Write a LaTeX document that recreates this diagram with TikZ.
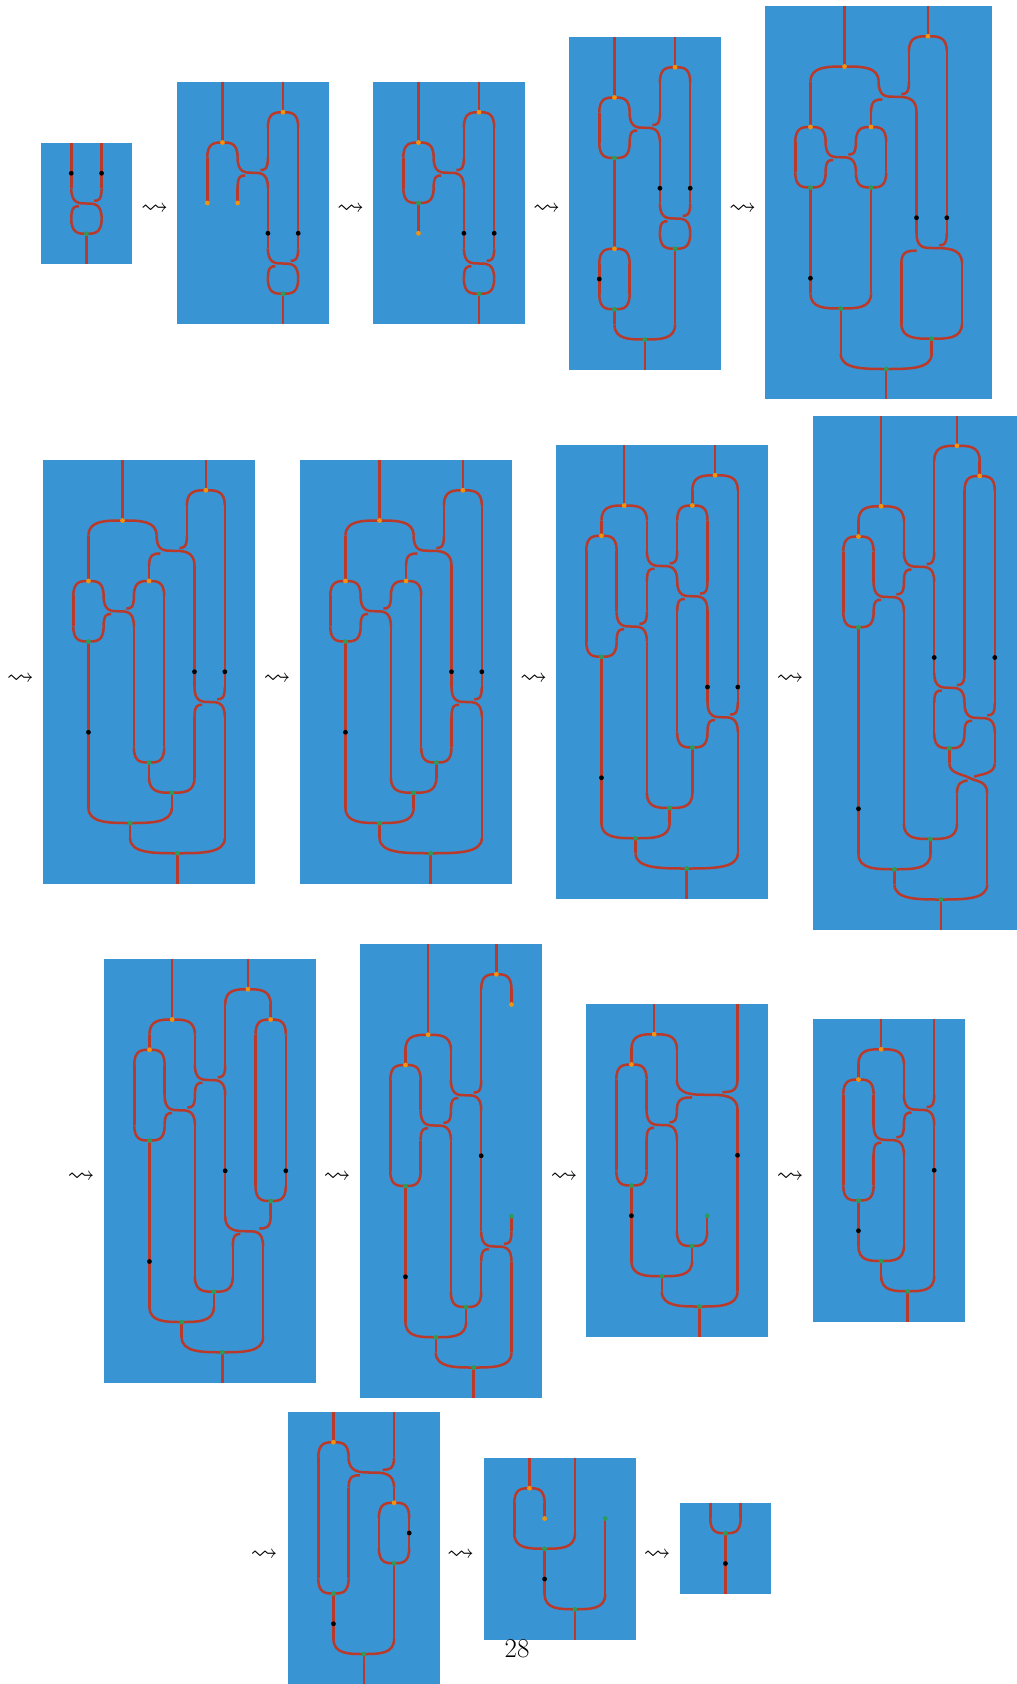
\documentclass[tikz,border=0pt]{standalone}
\usepackage{amsmath, amssymb}
\usepackage{tikz}
\definecolor{sheetblue}{HTML}{3994D3}
\definecolor{wirered}{HTML}{B93A2B}
\definecolor{capgold}{HTML}{F0930F}
\definecolor{cupgreen}{HTML}{2A9D58}
\pgfdeclarelayer{dots}
\pgfsetlayers{main,dots}
\tikzset{
  panel/.style={x=30.3pt, y=-30.25pt},
  strand/.style={wirered, line width=2.5pt},
  sheet/.style={fill=sheetblue},
  leadsto/.style={inner sep=0pt, font=\fontsize{27}{27}\selectfont}
}
\newcommand{\wires}[1]{\foreach \wx/\wa/\wb in {#1} {\draw[strand] (\wx,\wa) -- (\wx,\wb);}}
\newcommand{\blackdots}[1]{\begin{pgfonlayer}{dots}\foreach \dx/\dy in {#1} {\fill[black] (\dx,\dy) circle (2.4pt);}\end{pgfonlayer}}
\newcommand{\golddots}[1]{\begin{pgfonlayer}{dots}\foreach \dx/\dy in {#1} {\fill[capgold] (\dx,\dy) circle (2.4pt);}\end{pgfonlayer}}
\newcommand{\greendots}[1]{\begin{pgfonlayer}{dots}\foreach \dx/\dy in {#1} {\fill[cupgreen] (\dx,\dy) circle (2.4pt);}\end{pgfonlayer}}
% #1 vertex x, #2 vertex y, #3 left x, #4 right x
\newcommand{\capv}[4]{
  \draw[strand] ({#3},{#2+.5}) .. controls ({#3},{#2}) and ({(#3+#1)/2},{#2}) .. ({#1},{#2})
    .. controls ({(#4+#1)/2},{#2}) and ({#4},{#2}) .. ({#4},{#2+.5});
  \golddots{#1/#2}
}
\newcommand{\cupv}[4]{
  \draw[strand] ({#3},{#2-.5}) .. controls ({#3},{#2}) and ({(#3+#1)/2},{#2}) .. ({#1},{#2})
    .. controls ({(#4+#1)/2},{#2}) and ({#4},{#2}) .. ({#4},{#2-.5});
  \greendots{#1/#2}
}
% top left, top right, bottom left, bottom right, height
\newcommand{\braid}[5]{
  \pgfmathsetmacro{\bm}{(#1+#2+#3+#4)/4}
  \draw[strand] ({#1},{#5-.5}) .. controls ({#1},{#5}) and ({(#1+\bm)/2},{#5}) .. ({\bm},{#5})
    .. controls ({(#4+\bm)/2},{#5}) and ({#4},{#5}) .. ({#4},{#5+.5});
  \draw[strand] ({#2},{#5-.5}) .. controls ({#2},{#5-.09}) and ({#2-(#2-\bm)/4},{#5-.09}) .. ({(#2+\bm)/2},{#5-.09});
  \draw[strand] ({#3},{#5+.5}) .. controls ({#3},{#5+.09}) and ({#3+(\bm-#3)/4},{#5+.09}) .. ({(#3+\bm)/2},{#5+.09});
}
\begin{document}
\begin{tikzpicture}[x=1pt, y=-1pt]
  \useasboundingbox (0,0) rectangle (1017,1684);

  \begin{scope}[shift={(41,143)}, panel]
    \fill[sheet] (0,0) rectangle (3,4);
    \wires{1/0/1.5, 2/0/1.5, 1.5/3/4}
    \braid{1}{2}{1}{2}{2}
    \cupv{1.5}{3}{1}{2}
    \blackdots{1/1, 2/1}
  \end{scope}

  \begin{scope}[shift={(177,82)}, panel]
    \fill[sheet] (0,0) rectangle (5,8);
    \wires{1.5/0/2, 3.5/0/1, 3/1.5/2.5, 1/2.5/4, 2/3.5/4, 3/3.5/5.5, 4/1.5/5.5, 3.5/7/8}
    \capv{1.5}{2}{1}{2}
    \capv{3.5}{1}{3}{4}
    \braid{2}{3}{2}{3}{3}
    \braid{3}{4}{3}{4}{6}
    \cupv{3.5}{7}{3}{4}
    \golddots{1/4, 2/4}
    \blackdots{3/5, 4/5}
  \end{scope}

  \begin{scope}[shift={(373,82)}, panel]
    \fill[sheet] (0,0) rectangle (5,8);
    \wires{1.5/0/2, 3.5/0/1, 3/1.5/2.5, 1/2.5/3.5, 1.5/4/5, 3/3.5/5.5, 4/1.5/5.5, 3.5/7/8}
    \capv{1.5}{2}{1}{2}
    \capv{3.5}{1}{3}{4}
    \braid{2}{3}{2}{3}{3}
    \cupv{1.5}{4}{1}{2}
    \braid{3}{4}{3}{4}{6}
    \cupv{3.5}{7}{3}{4}
    \golddots{1.5/5}
    \blackdots{3/5, 4/5}
  \end{scope}

  \begin{scope}[shift={(569,37)}, panel]
    \fill[sheet] (0,0) rectangle (5,11);
    \wires{1.5/0/2, 3.5/0/1, 3/1.5/2.5, 1/2.5/3.5, 1.5/4/7, 3/3.5/5.5, 4/1.5/5.5, 1/7.5/8.5, 2/7.5/8.5,
      1.5/9/9.5, 3.5/7/9.5, 2.5/10/11}
    \capv{1.5}{2}{1}{2}
    \capv{3.5}{1}{3}{4}
    \braid{2}{3}{2}{3}{3}
    \cupv{1.5}{4}{1}{2}
    \braid{3}{4}{3}{4}{6}
    \cupv{3.5}{7}{3}{4}
    \capv{1.5}{7}{1}{2}
    \cupv{1.5}{9}{1}{2}
    \cupv{2.5}{10}{1.5}{3.5}
    \blackdots{3/5, 4/5, 1/8}
  \end{scope}

  \begin{scope}[shift={(765,6)}, panel]
    \fill[sheet] (0,0) rectangle (7.5,13);
    \wires{2.625/0/2, 5.375/0/1, 4.75/1.5/2.5, 1.5/2.5/4, 3.5/3.5/4, 1/4.5/5.5, 4/4.5/5.5, 1.5/6/9.5, 3.5/6/9.5,
      5/3.5/7.5, 6/1.5/7.5, 4.5/8.5/10.5, 6.5/8.5/10.5, 2.5/10/11.5, 5.5/11/11.5, 4/12/13}
    \capv{2.625}{2}{1.5}{3.75}
    \capv{5.375}{1}{4.75}{6}
    \braid{3.75}{4.75}{3.5}{5}{3}
    \capv{1.5}{4}{1}{2}
    \capv{3.5}{4}{3}{4}
    \braid{2}{3}{2}{3}{5}
    \cupv{1.5}{6}{1}{2}
    \cupv{3.5}{6}{3}{4}
    \braid{5}{6}{4.5}{6.5}{8}
    \cupv{2.5}{10}{1.5}{3.5}
    \cupv{5.5}{11}{4.5}{6.5}
    \cupv{4}{12}{2.5}{5.5}
    \blackdots{1.5/9, 5/7, 6/7}
  \end{scope}

  \begin{scope}[shift={(43,460)}, panel]
    \fill[sheet] (0,0) rectangle (7,14);
    \wires{2.625/0/2, 5.375/0/1, 4.75/1.5/2.5, 1.5/2.5/4, 3.5/3.5/4, 1/4.5/5.5, 1.5/6/11.5, 3/5.5/9.5, 4/4.5/9.5,
      3.5/10/10.5, 5/3.5/7.5, 6/1.5/7.5, 5/8.5/10.5, 6/8.5/12.5, 4.25/11/11.5, 2.875/12/12.5, 4.4375/13/14}
    \capv{2.625}{2}{1.5}{3.75}
    \capv{5.375}{1}{4.75}{6}
    \braid{3.75}{4.75}{3.5}{5}{3}
    \capv{1.5}{4}{1}{2}
    \capv{3.5}{4}{3}{4}
    \braid{2}{3}{2}{3}{5}
    \cupv{1.5}{6}{1}{2}
    \braid{5}{6}{5}{6}{8}
    \cupv{3.5}{10}{3}{4}
    \cupv{4.25}{11}{3.5}{5}
    \cupv{2.875}{12}{1.5}{4.25}
    \cupv{4.4375}{13}{2.875}{6}
    \blackdots{1.5/9, 5/7, 6/7}
  \end{scope}

  \begin{scope}[shift={(300,460)}, panel]
    \fill[sheet] (0,0) rectangle (7,14);
    \wires{2.625/0/2, 5.375/0/1, 4.75/1.5/2.5, 1.5/2.5/4, 3.5/3.5/4, 1/4.5/5.5, 1.5/6/11.5, 3/5.5/10.5, 4/4.5/9.5,
      4.5/10/10.5, 5/3.5/7.5, 6/1.5/7.5, 5/8.5/9.5, 6/8.5/12.5, 3.75/11/11.5, 2.625/12/12.5, 4.3125/13/14}
    \capv{2.625}{2}{1.5}{3.75}
    \capv{5.375}{1}{4.75}{6}
    \braid{3.75}{4.75}{3.5}{5}{3}
    \capv{1.5}{4}{1}{2}
    \capv{3.5}{4}{3}{4}
    \braid{2}{3}{2}{3}{5}
    \cupv{1.5}{6}{1}{2}
    \braid{5}{6}{5}{6}{8}
    \cupv{4.5}{10}{4}{5}
    \cupv{3.75}{11}{3}{4.5}
    \cupv{2.625}{12}{1.5}{3.75}
    \cupv{4.3125}{13}{2.625}{6}
    \blackdots{1.5/9, 5/7, 6/7}
  \end{scope}

  \begin{scope}[shift={(556,445)}, panel]
    \fill[sheet] (0,0) rectangle (7,15);
    \wires{2.25/0/2, 5.25/0/1, 4.5/1.5/2, 1.5/2.5/3, 3/2.5/3.5, 4/2.5/3.5, 5/2.5/4.5, 3/4.5/5.5, 2/3.5/5.5, 1/3.5/6.5,
      1.5/7/12.5, 3/6.5/11.5, 5/5.5/8.5, 6/1.5/8.5, 4/5.5/9.5, 4.5/10/11.5, 6/9.5/13.5, 3.75/12/12.5, 2.625/13/13.5, 4.3125/14/15}
    \capv{2.25}{2}{1.5}{3}
    \capv{5.25}{1}{4.5}{6}
    \capv{4.5}{2}{4}{5}
    \capv{1.5}{3}{1}{2}
    \braid{3}{4}{3}{4}{4}
    \braid{4}{5}{4}{5}{5}
    \braid{2}{3}{2}{3}{6}
    \cupv{1.5}{7}{1}{2}
    \braid{5}{6}{5}{6}{9}
    \cupv{4.5}{10}{4}{5}
    \cupv{3.75}{12}{3}{4.5}
    \cupv{2.625}{13}{1.5}{3.75}
    \cupv{4.3125}{14}{2.625}{6}
    \blackdots{1.5/11, 5/8, 6/8}
  \end{scope}

  \begin{scope}[shift={(813,415.5)}, panel]
    \fill[sheet] (0,0) rectangle (6.75,17);
    \wires{2.25/0/3, 1.5/3.5/4, 4.75/0/1, 5.5/1.5/2, 4/1.5/4.5, 3/3.5/4.5, 2/4.5/5.5, 1/4.5/6.5, 1.5/7/14.5, 3/6.5/13.5,
      4/5.5/8.5, 5/2.5/8.5, 6/2.5/9.5, 4/9.5/10.5, 4.5/11/11.5, 6/10.5/11.5, 4.75/12.5/13.5, 5.75/12.5/15.5,
      3.875/14/14.5, 2.6875/15/15.5, 4.22/16/17}
    \capv{2.25}{3}{1.5}{3}
    \capv{1.5}{4}{1}{2}
    \capv{4.75}{1}{4}{5.5}
    \capv{5.5}{2}{5}{6}
    \braid{3}{4}{3}{4}{5}
    \braid{2}{3}{2}{3}{6}
    \cupv{1.5}{7}{1}{2}
    \braid{4}{5}{4}{5}{9}
    \braid{5}{6}{5}{6}{10}
    \cupv{4.5}{11}{4}{5}
    \draw[strand] (4.5,11.5) .. controls (4.5,11.85) and (4.95,11.85) .. (5.21,12)
      .. controls (5.35,12.1) and (5.75,12.05) .. (5.75,12.5);
    \draw[strand] (6,11.5) .. controls (6,11.85) and (5.55,11.85) .. (5.32,11.94);
    \draw[strand] (4.75,12.5) .. controls (4.75,12.1) and (4.95,12.1) .. (5.1,12.06);
    \cupv{3.875}{14}{3}{4.75}
    \cupv{2.6875}{15}{1.5}{3.875}
    \cupv{4.22}{16}{2.6875}{5.75}
    \blackdots{1.5/13, 4/8, 6/8}
  \end{scope}

  \begin{scope}[shift={(104,959)}, panel]
    \fill[sheet] (0,0) rectangle (7,14);
    \wires{2.25/0/2, 1.5/2.5/3, 4.75/0/1, 5.5/1.5/2, 5/2.5/7.5, 6/2.5/7.5, 4/1.5/3.5, 3/2.5/3.5, 2/3.5/4.5, 1/3.5/5.5,
      1.5/6/11.5, 3/5.5/10.5, 4/4.5/8.5, 5.5/8/8.5, 4.25/9.5/10.5, 5.25/9.5/12.5, 3.625/11/11.5, 2.5625/12/12.5, 3.906/13/14}
    \capv{2.25}{2}{1.5}{3}
    \capv{1.5}{3}{1}{2}
    \capv{4.75}{1}{4}{5.5}
    \capv{5.5}{2}{5}{6}
    \cupv{5.5}{8}{5}{6}
    \braid{3}{4}{3}{4}{4}
    \braid{2}{3}{2}{3}{5}
    \cupv{1.5}{6}{1}{2}
    \braid{4}{5.5}{4.25}{5.25}{9}
    \cupv{3.625}{11}{3}{4.25}
    \cupv{2.5625}{12}{1.5}{3.625}
    \cupv{3.906}{13}{2.5625}{5.25}
    \blackdots{1.5/10, 4/7, 6/7}
  \end{scope}

  \begin{scope}[shift={(360,944)}, panel]
    \fill[sheet] (0,0) rectangle (6,15);
    \wires{2.25/0/3, 1.5/3.5/4, 4.5/0/1, 5/1.5/2, 4/1.5/4.5, 3/3.5/4.5, 2/4.5/5.5, 1/4.5/7.5, 2/6.5/7.5, 1.5/8/12.5,
      3/6.5/11.5, 4/5.5/9.5, 5/9/9.5, 4/10.5/11.5, 5/10.5/13.5, 3.5/12/12.5, 2.5/13/13.5, 3.75/14/15}
    \capv{2.25}{3}{1.5}{3}
    \capv{1.5}{4}{1}{2}
    \capv{4.5}{1}{4}{5}
    \braid{3}{4}{3}{4}{5}
    \braid{2}{3}{2}{3}{6}
    \cupv{1.5}{8}{1}{2}
    \braid{4}{5}{4}{5}{10}
    \cupv{3.5}{12}{3}{4}
    \cupv{2.5}{13}{1.5}{3.5}
    \cupv{3.75}{14}{2.5}{5}
    \golddots{5/2}
    \greendots{5/9}
    \blackdots{1.5/11, 4/7}
  \end{scope}

  \begin{scope}[shift={(586,1004)}, panel]
    \fill[sheet] (0,0) rectangle (6,11);
    \wires{2.25/0/1, 1.5/1.5/2, 5/0/2.5, 3/1.5/2.5, 2/2.5/3.5, 1/2.5/5.5, 2/4.5/5.5, 1.5/6/8.5, 3/4.5/7.5, 4/7/7.5,
      5/3.5/9.5, 3.5/8/8.5, 2.5/9/9.5, 3.75/10/11}
    \capv{2.25}{1}{1.5}{3}
    \capv{1.5}{2}{1}{2}
    \braid{3}{5}{3}{5}{3}
    \braid{2}{3}{2}{3}{4}
    \cupv{1.5}{6}{1}{2}
    \cupv{3.5}{8}{3}{4}
    \cupv{2.5}{9}{1.5}{3.5}
    \cupv{3.75}{10}{2.5}{5}
    \greendots{4/7}
    \blackdots{1.5/7, 5/5}
  \end{scope}

  \begin{scope}[shift={(813,1019)}, panel]
    \fill[sheet] (0,0) rectangle (5,10);
    \wires{2.25/0/1, 1.5/1.5/2, 4/0/2.5, 3/1.5/2.5, 2/2.5/3.5, 1/2.5/5.5, 2/4.5/5.5, 1.5/6/7.5, 3/4.5/7.5, 2.25/8/8.5, 3.125/9/10, 4/3.5/8.5}
    \capv{2.25}{1}{1.5}{3}
    \capv{1.5}{2}{1}{2}
    \braid{3}{4}{3}{4}{3}
    \braid{2}{3}{2}{3}{4}
    \cupv{1.5}{6}{1}{2}
    \cupv{2.25}{8}{1.5}{3}
    \cupv{3.125}{9}{2.25}{4}
    \blackdots{1.5/7, 4/5}
  \end{scope}

  \begin{scope}[shift={(288,1412)}, panel]
    \fill[sheet] (0,0) rectangle (5,9);
    \wires{1.5/0/1, 3.5/0/1.5, 3.5/2.5/3, 1/1.5/5.5, 2/2.5/5.5, 3/3.5/4.5, 4/3.5/4.5, 3.5/5/7.5, 1.5/6/7.5, 2.5/8/9}
    \capv{1.5}{1}{1}{2}
    \braid{2}{3.5}{2}{3.5}{2}
    \capv{3.5}{3}{3}{4}
    \cupv{1.5}{6}{1}{2}
    \cupv{3.5}{5}{3}{4}
    \cupv{2.5}{8}{1.5}{3.5}
    \blackdots{4/4, 1.5/7}
  \end{scope}

  \begin{scope}[shift={(484,1458)}, panel]
    \fill[sheet] (0,0) rectangle (5,6);
    \wires{1.5/0/1, 2/1.5/2, 1/1.5/2.5, 3/0/2.5, 2/3/4.5, 4/2/4.5, 3/5/6}
    \capv{1.5}{1}{1}{2}
    \cupv{2}{3}{1}{3}
    \cupv{3}{5}{2}{4}
    \golddots{2/2}
    \greendots{4/2}
    \blackdots{2/4}
  \end{scope}

  \begin{scope}[shift={(680,1503)}, panel]
    \fill[sheet] (0,0) rectangle (3,3);
    \wires{1/0/.5, 2/0/.5, 1.5/1/3}
    \cupv{1.5}{1}{1}{2}
    \blackdots{1.5/2}
  \end{scope}

  \foreach \arrname/\arrx/\arry in {a1/154.6/209.5, a2/350.6/209.5, a3/546.6/209.5, a4/742.6/209.5,
      a5/20.4/679, a6/277/679, a7/533.7/679, a8/790/679,
      a9/81/1177, a10/337/1177, a11/564/1177, a12/790/1177,
      a13/264/1555, a14/460.5/1555, a15/657/1555}
    \node[leadsto] (\arrname) at (\arrx,\arry) {$\rightsquigarrow$};
  \node[leadsto] (pagenumber) at (517,1648.5) {28};
\end{tikzpicture}
\end{document}
